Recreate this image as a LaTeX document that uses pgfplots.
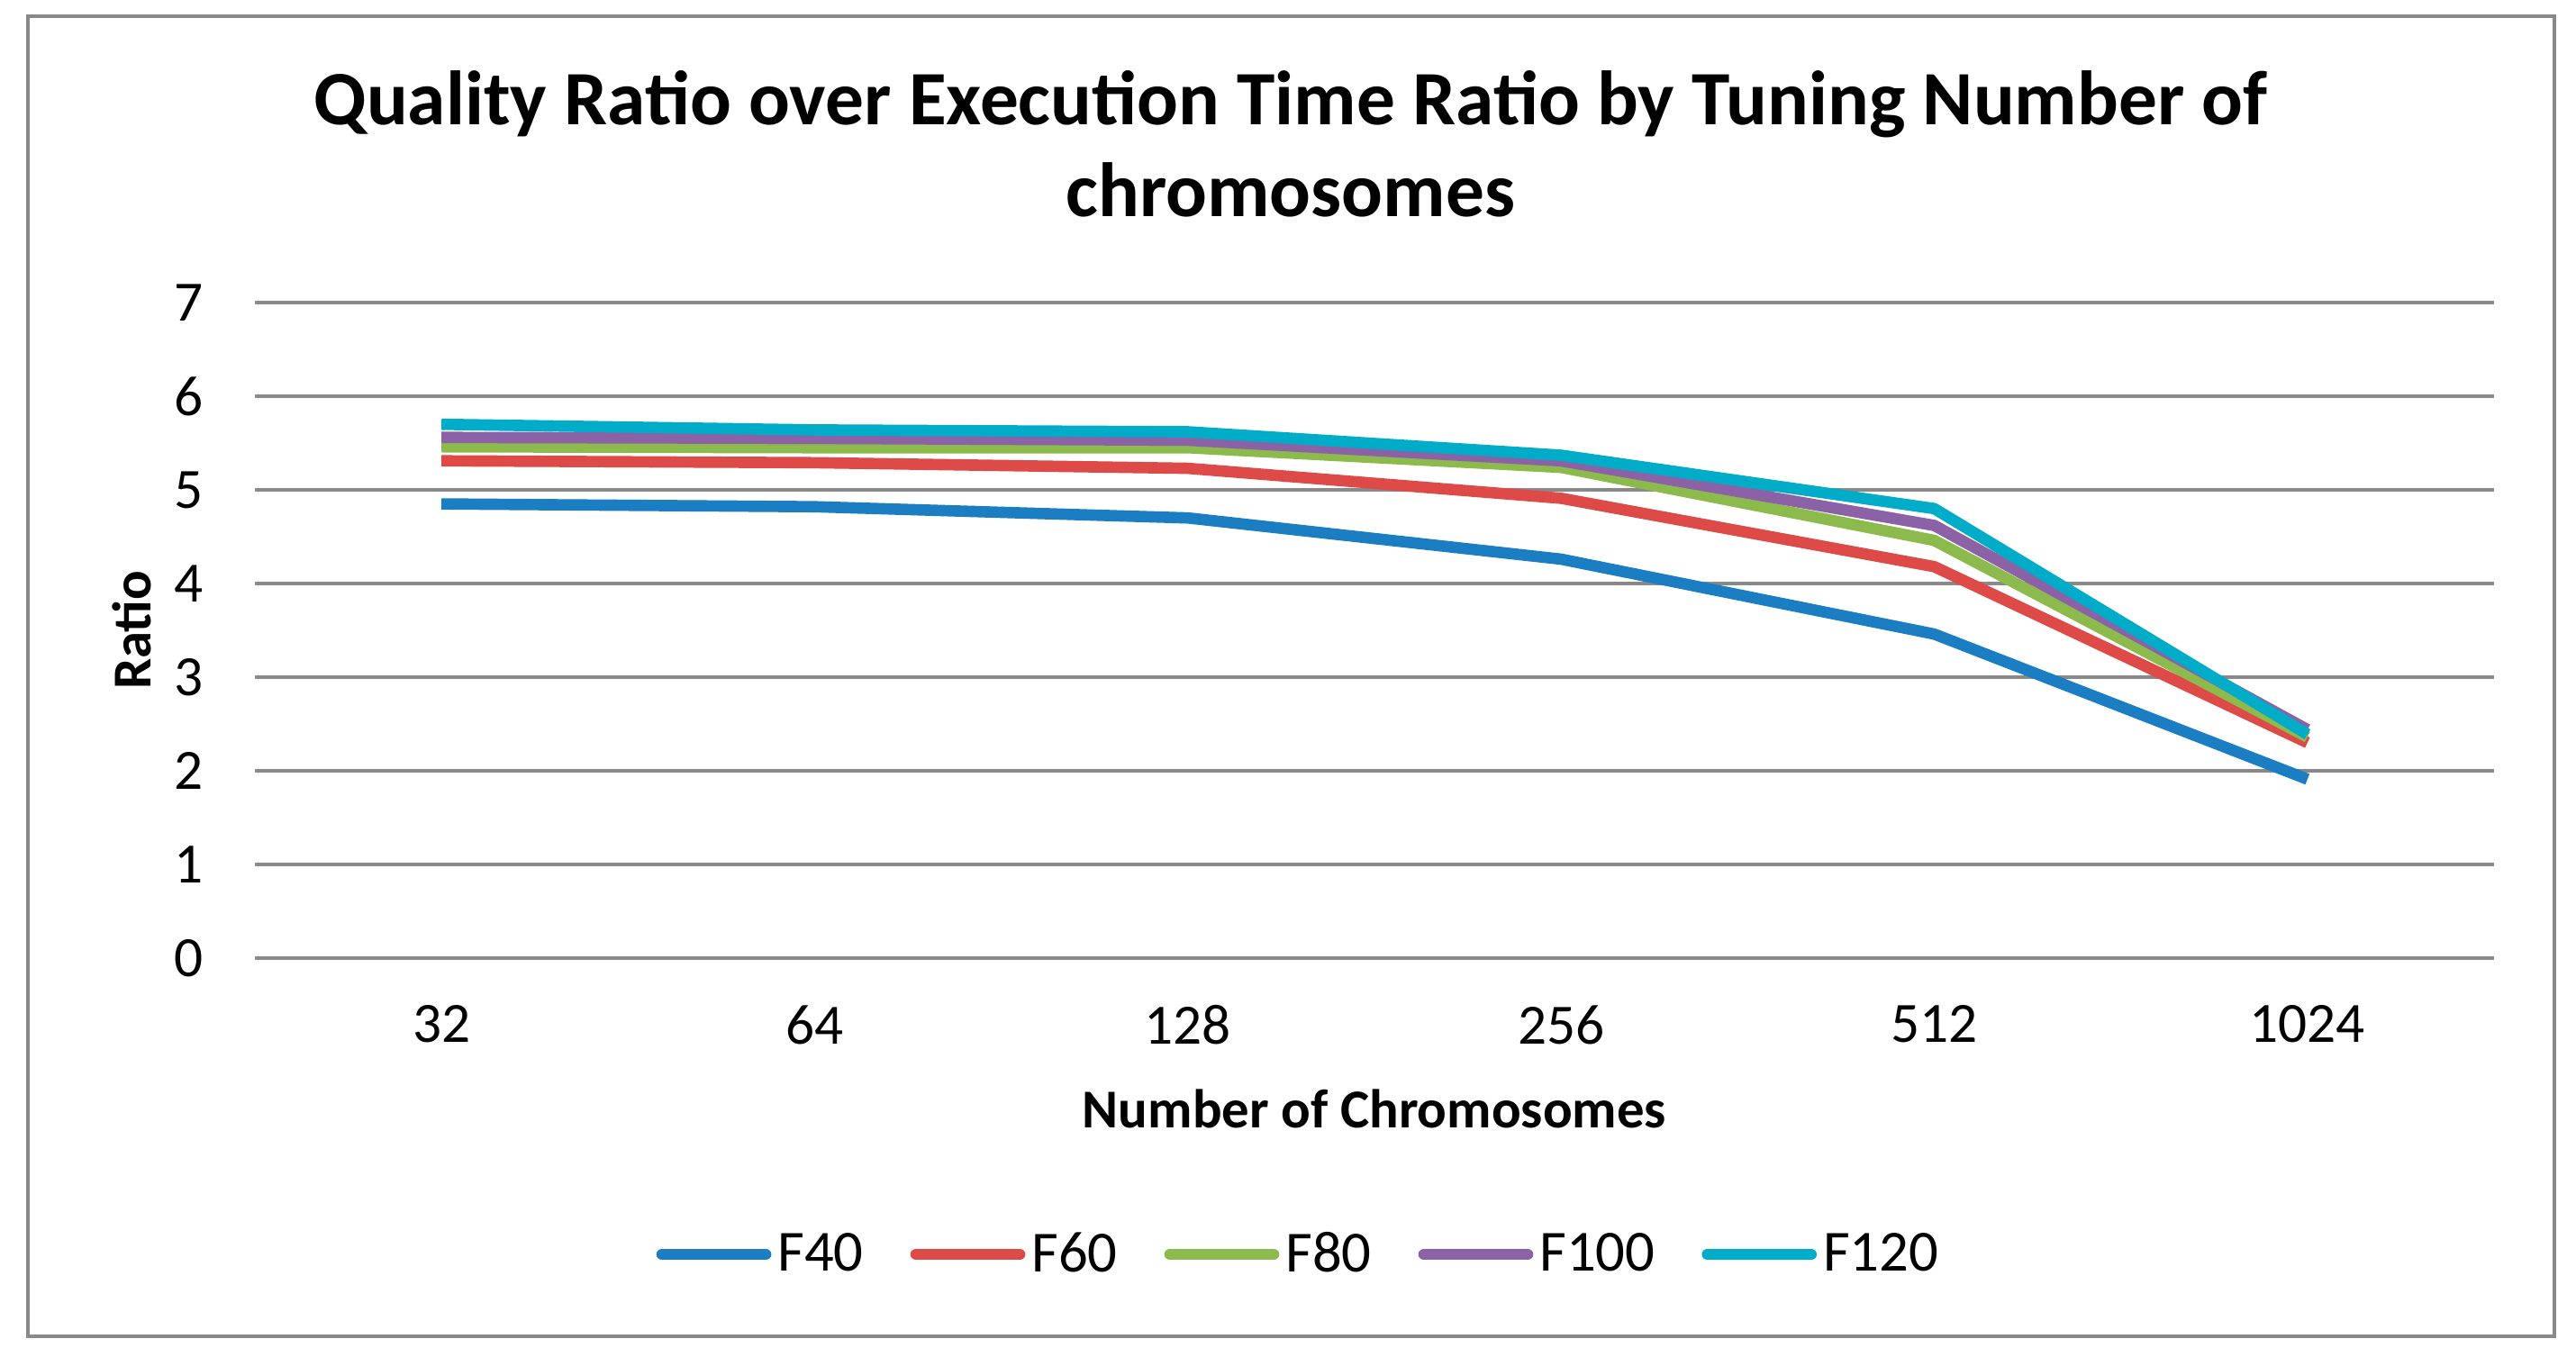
\documentclass[border=0pt]{standalone}
\usepackage{pgfplots}
\pgfplotsset{compat=1.18}
\usepackage{fontspec}
\setmainfont{Carlito}

\definecolor{cF40}{HTML}{1B7DC2}
\definecolor{cF60}{HTML}{DD4A47}
\definecolor{cF80}{HTML}{8CBA4C}
\definecolor{cF100}{HTML}{8B62A6}
\definecolor{cF120}{HTML}{00ACC8}
\definecolor{gridgray}{HTML}{898989}

\begin{document}
\begin{tikzpicture}
\useasboundingbox (0,0) rectangle (28.6cm,15.07cm);
\draw[gridgray, line width=1pt] (0.31cm,0.23cm) rectangle (28.36cm,14.89cm);

\begin{axis}[
    at={(2.83cm,4.43cm)}, anchor=south west,
    scale only axis,
    width=24.86cm, height=7.28cm,
    xmin=-0.5, xmax=5.5,
    ymin=0, ymax=7,
    xtick={0,1,2,3,4,5},
    xticklabels={32,64,128,256,512,1024},
    ytick={0,1,...,7},
    ymajorgrids,
    grid style={gridgray, line width=1pt},
    axis line style={draw=none},
    tick style={draw=none},
    /pgf/number format/assume math mode=true,
    tick label style={font=\fontsize{18}{20}\selectfont},
    yticklabel style={xshift=-0.45cm},
    xticklabel style={yshift=-0.4cm},
    xlabel={\textbf{Number of Chromosomes}},
    ylabel={\textbf{Ratio}},
    label style={font=\fontsize{17.3}{19}\selectfont},
    xlabel style={at={(rel axis cs:0.5,-0.23)}, anchor=center},
    ylabel style={at={(rel axis cs:-0.055,0.5)}, anchor=center, rotate=0},
    legend columns=5,
    legend style={draw=none, at={(rel axis cs:0.467,-0.452)}, anchor=center,
        font=\fontsize{18.4}{20}\selectfont,
        /tikz/every even column/.append style={column sep=0.45cm}},
    legend image code/.code={\draw[#1, line width=3.6pt, line cap=round] (0cm,0cm) -- (1.15cm,0cm);},
    every axis plot/.append style={line width=3.6pt, line join=round},
]
\addplot[cF40] coordinates {(0,4.85) (1,4.82) (2,4.70) (3,4.26) (4,3.46) (5,1.91)};
\addplot[cF60] coordinates {(0,5.31) (1,5.29) (2,5.23) (3,4.91) (4,4.18) (5,2.30)};
\addplot[cF80] coordinates {(0,5.46) (1,5.45) (2,5.45) (3,5.24) (4,4.46) (5,2.36)};
\addplot[cF100] coordinates {(0,5.56) (1,5.55) (2,5.53) (3,5.31) (4,4.62) (5,2.44)};
\addplot[cF120] coordinates {(0,5.70) (1,5.64) (2,5.62) (3,5.37) (4,4.80) (5,2.39)};
\legend{F40,F60,F80,F100,F120}
\end{axis}

\node[align=center, font=\bfseries\fontsize{24.3}{29}\selectfont] at (14.33cm,13.47cm)
  {Quality Ratio over Execution Time Ratio by Tuning Number of\\chromosomes};
\end{tikzpicture}
\end{document}
